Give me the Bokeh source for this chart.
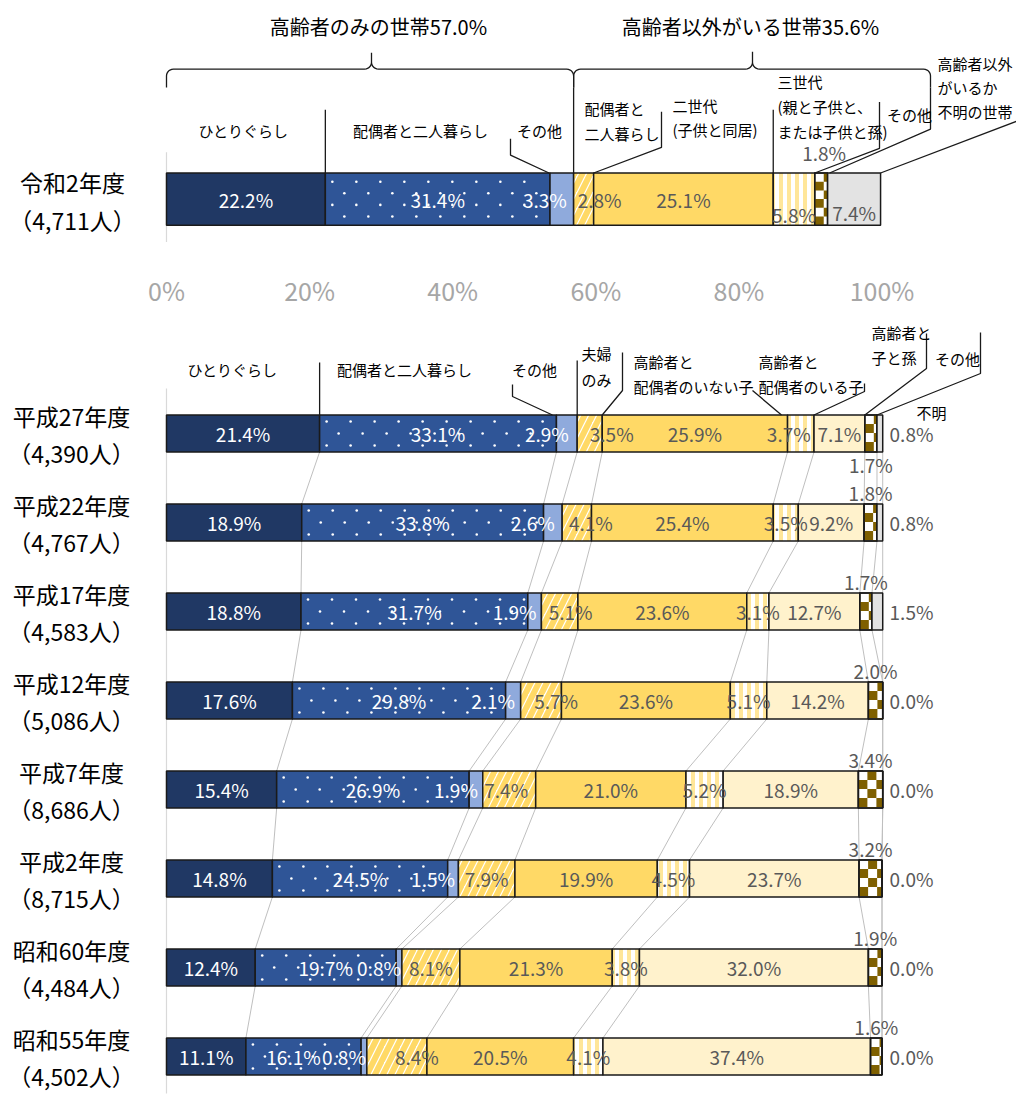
import numpy as np
from bokeh.plotting import figure
from bokeh.models import Range1d, FixedTicker, PrintfTickFormatter, ColumnDataSource
from bokeh.layouts import column
from bokeh.core.properties import value
from bokeh.embed import file_html
from bokeh.resources import INLINE

# ---------------- data ----------------
r2_year = "令和2年度"
r2_count = "（4,711人）"
r2_segments = ["ひとりぐらし", "配偶者と二人暮らし", "その他", "配偶者と二人暮らし",
               "二世代（子供と同居）", "三世代", "その他", "不明の世帯"]
r2_values = [22.2, 31.4, 3.3, 2.8, 25.1, 5.8, 1.8, 7.4]
group_titles = ["高齢者のみの世帯57.0%", "高齢者以外がいる世帯35.6%"]

years = ["平成27年度", "平成22年度", "平成17年度", "平成12年度",
         "平成7年度", "平成2年度", "昭和60年度", "昭和55年度"]
counts = ["（4,390人）", "（4,767人）", "（4,583人）", "（5,086人）",
          "（8,686人）", "（8,715人）", "（4,484人）", "（4,502人）"]
hitorigurashi = [21.4, 18.9, 18.8, 17.6, 15.4, 14.8, 12.4, 11.1]
haigusha_futari = [33.1, 33.8, 31.7, 29.8, 26.9, 24.5, 19.7, 16.1]
koreisha_sonota = [2.9, 2.6, 1.9, 2.1, 1.9, 1.5, 0.8, 0.8]
fufu_nomi = [3.5, 4.1, 5.1, 5.7, 7.4, 7.9, 8.1, 8.4]
ko_haigusha_nashi = [25.9, 25.4, 23.6, 23.6, 21.0, 19.9, 21.3, 20.5]
ko_haigusha_ari = [3.7, 3.5, 3.1, 5.1, 5.2, 4.5, 3.8, 4.1]
ko_mago = [7.1, 9.2, 12.7, 14.2, 18.9, 23.7, 32.0, 37.4]
sonota = [1.7, 1.8, 1.7, 2.0, 3.4, 3.2, 1.9, 1.6]
fumei = [0.8, 0.8, 1.5, 0.0, 0.0, 0.0, 0.0, 0.0]
bottom_series = [hitorigurashi, haigusha_futari, koreisha_sonota, fufu_nomi,
                 ko_haigusha_nashi, ko_haigusha_ari, ko_mago, sonota, fumei]

tick_values = [0, 20, 40, 60, 80, 100]

# ---------------- layout / style ----------------
FONT = "Noto Sans CJK JP"
W = 1016
PX0, PXU = 166.0, 7.155          # pixel of 0 %, pixels per 1 %
def X(px):
    return (px - PX0) / PXU
def PX(v):
    return PX0 + v * PXU

TOP_H, TOP_FRAME = 310, 268
BOT_Y0, BOT_H = 310, 785
TOP_BAR_Y, TOP_BAR_H = 205.5, 54
ROW_Y0, ROW_STEP, BAR_H = 433, 89, 37
GRAY_TXT = "#595959"
LINE = "#1a1a1a"
BROWN = "#7F6000"

STYLES = {
    "navy": dict(fill_color="#203864"),
    "dots": dict(fill_color="#2F5597"),
    "lblue": dict(fill_color="#8FAADC"),
    "diag": dict(fill_color="white", hatch_pattern="right_diagonal_line",
                 hatch_color="#FFD966", hatch_scale=16, hatch_weight=6),
    "gold": dict(fill_color="#FFD966"),
    "vstripe": dict(fill_color="white", hatch_pattern="vertical_line",
                    hatch_color="#FFE699", hatch_scale=8, hatch_weight=4),
    "lyellow": dict(fill_color="#FFF2CC"),
    "brown": dict(fill_color="white"),
    "gray": dict(fill_color="#E3E3E3"),
}
TOP_STY = ["navy", "dots", "lblue", "diag", "gold", "vstripe", "brown", "gray"]
BOT_STY = ["navy", "dots", "lblue", "diag", "gold", "vstripe", "lyellow", "brown", "gray"]


def make_fig(height, y_top, y_bottom, with_axis):
    kw = dict(width=W, height=height, output_backend="svg", toolbar_location=None,
              x_range=Range1d(X(0), X(W)), y_range=Range1d(y_bottom, y_top),
              min_border_left=0, min_border_right=0, min_border_top=0,
              y_axis_location=None, background_fill_color="white",
              border_fill_color="white")
    if with_axis:
        kw["min_border_bottom"] = height - (y_bottom - y_top)
    else:
        kw["min_border_bottom"] = 0
        kw["x_axis_location"] = None
    p = figure(**kw)
    p.grid.visible = False
    p.outline_line_color = None
    return p


def dot_pattern(left, right, yc, h, dx=24, dy=12):
    """white dot fill texture for a segment (pixel geometry)"""
    xs, ys = [], []
    L, R = PX(left), PX(right)
    nrows = int(h // dy)
    y0 = yc - (nrows - 1) * dy / 2
    for r in range(nrows):
        y = y0 + r * dy
        x = L + 7 + (dx / 2 if r % 2 else 0)
        while x < R - 3:
            xs.append(X(x)); ys.append(y)
            x += dx
    return xs, ys


def checker(left, right, yc, h, c=9):
    """checker texture cells for a segment (pixel geometry)"""
    L, R = PX(left), PX(right)
    T, B = yc - h / 2, yc + h / 2
    out = dict(l=[], r=[], t=[], b=[])
    ncol = int(np.ceil((R - L) / c))
    nrow = int(np.ceil((B - T) / c))
    for j in range(ncol):
        for k in range(nrow):
            if (j + k) % 2 == 1:
                out["l"].append(X(L + j * c)); out["r"].append(X(min(L + (j + 1) * c, R)))
                out["t"].append(T + k * c); out["b"].append(min(T + (k + 1) * c, B))
    return out


def draw_segment(p, style, ys, lefts, rights, h):
    p.hbar(y=ys, left=lefts, right=rights, height=h, line_color=LINE,
           line_width=1.5, **STYLES[style])
    if style == "dots":
        dxs, dys = [], []
        for y, l, r in zip(ys, lefts, rights):
            a, b = dot_pattern(l, r, y, h)
            dxs += a; dys += b
        p.scatter(x=dxs, y=dys, size=2.6, marker="circle", fill_color="white",
                  line_color=None)
    if style == "brown":
        cells = dict(l=[], r=[], t=[], b=[])
        for y, l, r in zip(ys, lefts, rights):
            cc = checker(l, r, y, h)
            for key in cells:
                cells[key] += cc[key]
        p.quad(left="l", right="r", top="t", bottom="b",
               source=ColumnDataSource(cells), fill_color=BROWN, line_color=None)
        p.hbar(y=ys, left=lefts, right=rights, height=h, line_color=LINE,
               line_width=1.5, fill_alpha=0)


def brace(x0, x1, xm, y_end, y_line, y_peak, r=7):
    pts = [(x0, y_end)]
    for t in np.linspace(np.pi, 1.5 * np.pi, 7):
        pts.append((x0 + r + r * np.cos(t), y_line + r + r * np.sin(t)))
    for t in np.linspace(0.5 * np.pi, 0, 7):
        pts.append((xm - r + r * np.cos(t), y_line - r + r * np.sin(t)))
    pts.append((xm, y_peak))
    for t in np.linspace(np.pi, 0.5 * np.pi, 7):
        pts.append((xm + r + r * np.cos(t), y_line - r + r * np.sin(t)))
    for t in np.linspace(1.5 * np.pi, 2 * np.pi, 7):
        pts.append((x1 - r + r * np.cos(t), y_line + r + r * np.sin(t)))
    pts.append((x1, y_end))
    return pts


def draw_lines(p, lines, color=LINE, width=1.3):
    xs = [[X(a) for a, b in ln] for ln in lines]
    ys = [[b for a, b in ln] for ln in lines]
    p.multi_line(xs=xs, ys=ys, line_color=color, line_width=width)


def draw_texts(p, items, size, color="black"):
    for txt, x, y, align in items:
        p.text(x=[X(x)], y=[y], text=[txt], text_font=value(FONT),
               text_font_size=size, text_color=color, text_align=align,
               text_baseline="middle")


# ================= TOP CHART =================
top = make_fig(TOP_H, 0, TOP_FRAME, True)
ax = top.xaxis[0]
ax.ticker = FixedTicker(ticks=tick_values)
ax.formatter = PrintfTickFormatter(format="%d%%")
ax.axis_line_color = None
ax.major_tick_line_color = None
ax.minor_tick_line_color = None
ax.major_label_text_font = FONT
ax.major_label_text_font_size = "25px"
ax.major_label_text_color = "#A6A6A6"
ax.major_label_standoff = 6

top.segment(x0=[0], y0=[157], x1=[0], y1=[250], line_color="#D9D9D9", line_width=1.2)

r2_cum = np.concatenate([[0], np.cumsum(r2_values)])
for k, v in enumerate(r2_values):
    draw_segment(top, TOP_STY[k], [TOP_BAR_Y], [r2_cum[k]], [r2_cum[k + 1]], TOP_BAR_H)

tx, ty, tt, tc = [], [], [], []
for k, v in enumerate(r2_values):
    cx = (r2_cum[k] + r2_cum[k + 1]) / 2
    cy = TOP_BAR_Y
    if k == 2:
        cx += -17 / PXU
    if k == 3:
        cx += 16 / PXU
    if k == 5:
        cy += 16
    if k == 6:
        cy = TOP_BAR_Y - TOP_BAR_H / 2 - 21
        cx += 3 / PXU
    if k == 7:
        cy += 14
    tx.append(cx); ty.append(cy); tt.append(f"{v:.1f}%")
    tc.append("white" if k < 3 else GRAY_TXT)
top.text(x="x", y="y", text="t", text_color="c",
         source=ColumnDataSource(dict(x=tx, y=ty, t=tt, c=tc)),
         text_font=value(FONT), text_font_size="19px", text_align="center",
         text_baseline="middle")

draw_texts(top, [(r2_year, 72, 188, "center"), (r2_count, 72, 227, "center")], "23px")

draw_texts(top, [(group_titles[0], 378, 27, "center"), (group_titles[1], 750, 27, "center")], "20px")
b1 = PX(r2_cum[1]); b3 = PX(r2_cum[3]); b5 = PX(r2_cum[5])
bar_top = TOP_BAR_Y - TOP_BAR_H / 2
top_lines = [
    brace(PX(0), b3, 371, 90, 71, 54),
    brace(b3, 930, 752, 90, 71, 53),
    [(b3, 90), (b3, bar_top)],
    [(b1, 113), (b1, bar_top)],
    [(510, 143), (510, 160), (PX(r2_cum[2]) - 1, bar_top)],
    [(661, 115), (661, 152), (PX(r2_cum[4]), bar_top)],
    [(b5, 113), (b5, bar_top)],
    [(879, 105), (879, 153), (PX(r2_cum[6]), bar_top)],
    [(930, 90), (930, 133), (PX(r2_cum[7]) + 2, bar_top)],
    [(1016, 125), (PX(r2_cum[8]), bar_top)],
]
draw_lines(top, top_lines)
draw_texts(top, [
    ("ひとりぐらし", 243, 135, "center"),
    ("配偶者と二人暮らし", 420, 135, "center"),
    ("その他", 539, 134, "center"),
    ("配偶者と", 584, 112, "left"),
    ("二人暮らし", 584, 138, "left"),
    ("二世代", 672, 109, "left"),
    ("(子供と同居)", 672, 133, "left"),
    ("三世代", 777, 84, "left"),
    ("(親と子供と、", 777, 110, "left"),
    ("または子供と孫)", 777, 136, "left"),
    ("その他", 909, 118, "center"),
    ("高齢者以外", 937, 65, "left"),
    ("がいるか", 937, 90, "left"),
    ("不明の世帯", 937, 115, "left"),
], "15px")

# ================= BOTTOM CHART =================
bot = make_fig(BOT_H, BOT_Y0, BOT_Y0 + BOT_H, False)
bot.segment(x0=[0], y0=[388], x1=[0], y1=[1093], line_color="#D9D9D9", line_width=1.2)

nrow = len(years)
row_y = [ROW_Y0 + ROW_STEP * i for i in range(nrow)]
arr = np.array(bottom_series)                      # (nseg, nrow)
cum = np.vstack([np.zeros(nrow), np.cumsum(arr, axis=0)])

cx0, cy0, cx1, cy1 = [], [], [], []
for i in range(nrow - 1):
    for k in range(1, cum.shape[0]):
        cx0.append(cum[k, i]); cy0.append(row_y[i] + BAR_H / 2)
        cx1.append(cum[k, i + 1]); cy1.append(row_y[i + 1] - BAR_H / 2)
bot.segment(x0=cx0, y0=cy0, x1=cx1, y1=cy1, line_color="#BFBFBF", line_width=1)

for k in range(arr.shape[0]):
    draw_segment(bot, BOT_STY[k], row_y, list(cum[k]), list(cum[k + 1]), BAR_H)

fufu_dx = [22, 14, 11, 15, -3, 0, 0, 20]
bx, by, bt, bc = [], [], [], []
for i in range(nrow):
    for k in range(arr.shape[0]):
        v = arr[k, i]
        cx = (cum[k, i] + cum[k + 1, i]) / 2
        cy = row_y[i]
        if k == 2:
            cx += -20 / PXU
        if k == 3:
            cx += fufu_dx[i] / PXU
        if k == 5 and i == 0:
            cx += -12 / PXU
        if k == 1 and i == nrow - 1:
            cx += -10 / PXU
        if k == 7:
            cy = row_y[i] + (BAR_H / 2 + 12 if i == 0 else -(BAR_H / 2 + 12))
        if k == 8:
            cx = X(911)
        bx.append(cx); by.append(cy); bt.append(f"{v:.1f}%")
        bc.append("white" if k < 3 else GRAY_TXT)
bot.text(x="x", y="y", text="t", text_color="c",
         source=ColumnDataSource(dict(x=bx, y=by, t=bt, c=bc)),
         text_font=value(FONT), text_font_size="19px", text_align="center",
         text_baseline="middle")

row_items = []
for i in range(nrow):
    row_items.append((years[i], 71, row_y[i] - 18, "center"))
    row_items.append((counts[i], 71, row_y[i] + 19, "center"))
draw_texts(bot, row_items, "23px")

btop = row_y[0] - BAR_H / 2
bot_lines = [
    [(PX(cum[1, 0]), 362), (PX(cum[1, 0]), btop)],
    [(512, 384), (512, 396), (PX(cum[2, 0]) - 4, btop)],
    [(PX(cum[3, 0]), 360), (PX(cum[3, 0]), btop)],
    [(622, 352), (622, 390), (PX(cum[4, 0]), btop)],
    [(752, 390), (781, btop)],
    [(864, 383), (864, 391), (PX(cum[6, 0]), btop)],
    [(926, 333), (926, 368), (PX(cum[7, 0]), btop)],
    [(980, 332), (980, 373), (PX(cum[8, 0]), btop)],
]
draw_lines(bot, bot_lines)
draw_texts(bot, [
    ("ひとりぐらし", 232, 369, "center"),
    ("配偶者と二人暮らし", 404, 369, "center"),
    ("その他", 534, 369, "center"),
    ("夫婦", 581, 353, "left"),
    ("のみ", 581, 379, "left"),
    ("高齢者と", 633, 361, "left"),
    ("配偶者のいない子", 633, 386, "left"),
    ("高齢者と", 758, 361, "left"),
    ("配偶者のいる子", 758, 386, "left"),
    ("高齢者と", 871, 332, "left"),
    ("子と孫", 871, 357, "left"),
    ("その他", 957, 358, "center"),
    ("不明", 931, 412, "center"),
], "15px")

layout = column(top, bot, spacing=0)
open("out.html", "w").write(file_html(layout, INLINE))
